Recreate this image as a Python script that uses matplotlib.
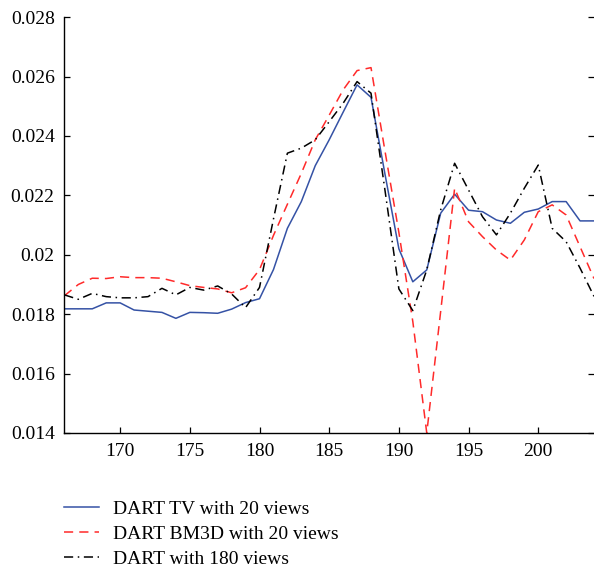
import matplotlib
matplotlib.use("Agg")
import matplotlib.pyplot as plt
from matplotlib.ticker import FixedLocator, FixedFormatter

plt.rcParams['font.family'] = ['Liberation Serif', 'DejaVu Serif']

x = list(range(166, 205))

tv_20 = [0.01818, 0.01818, 0.01818, 0.01838, 0.01838, 0.01814, 0.01810, 0.01806,
         0.01786, 0.01806, 0.01805, 0.01803, 0.01817, 0.01839, 0.01852, 0.01950,
         0.02089, 0.02179, 0.02300, 0.02387, 0.02480, 0.02572, 0.02530, 0.02272,
         0.02020, 0.01909, 0.01949, 0.02140, 0.02204, 0.02150, 0.02145, 0.02117,
         0.02106, 0.02143, 0.02154, 0.02179, 0.02179, 0.02114, 0.02114]

bm3d_20 = [0.01862, 0.01900, 0.01921, 0.01920, 0.01926, 0.01923, 0.01923, 0.01921,
           0.01909, 0.01896, 0.01890, 0.01885, 0.01872, 0.01889, 0.01950, 0.02065,
           0.02170, 0.02274, 0.02387, 0.02470, 0.02555, 0.02620, 0.02630, 0.02350,
           0.02075, 0.01775, 0.01400, 0.01810, 0.02224, 0.02111, 0.02061, 0.02016,
           0.01982, 0.02050, 0.02145, 0.02168, 0.02134, 0.02027, 0.01920]

dart_180 = [0.01865, 0.01850, 0.01870, 0.01859, 0.01855, 0.01855, 0.01859, 0.01887,
            0.01865, 0.01890, 0.01881, 0.01895, 0.01868, 0.01822, 0.01890, 0.02120,
            0.02342, 0.02359, 0.02387, 0.02448, 0.02510, 0.02583, 0.02544, 0.02218,
            0.01885, 0.01812, 0.01949, 0.02151, 0.02308, 0.02218, 0.02128, 0.02067,
            0.02140, 0.02224, 0.02302, 0.02089, 0.02044, 0.01955, 0.01860]

xticks = [170, 175, 180, 185, 190, 195, 200]
xtick_labels = ["170", "175", "180", "185", "190", "195", "200"]
yticks = [0.014, 0.016, 0.018, 0.020, 0.022, 0.024, 0.026, 0.028]
ytick_labels = ["0.014", "0.016", "0.018", "0.02", "0.022", "0.024", "0.026", "0.028"]

labels = ["DART TV with 20 views", "DART BM3D with 20 views", "DART with 180 views"]

fig = plt.figure(figsize=(5.94, 5.71), dpi=100)
ax = fig.add_axes([0.1084, 0.2417, 0.8916, 0.7283])

l1, = ax.plot(x, tv_20, color='#3552a5', lw=1.1, label=labels[0])
l2, = ax.plot(x, bm3d_20, color='#ff2a2a', lw=1.1, dashes=(6, 4), label=labels[1])
l3, = ax.plot(x, dart_180, color='black', lw=1.1, dashes=(6, 3, 1, 3), label=labels[2])

ax.set_xlim(166, 204)
ax.set_ylim(0.014, 0.028)
ax.xaxis.set_major_locator(FixedLocator(xticks))
ax.xaxis.set_major_formatter(FixedFormatter(xtick_labels))
ax.yaxis.set_major_locator(FixedLocator(yticks))
ax.yaxis.set_major_formatter(FixedFormatter(ytick_labels))

ax.spines['top'].set_visible(False)
ax.spines['right'].set_visible(False)
ax.tick_params(direction='in', length=4, width=0.9, labelsize=14, pad=7,
               right=True, top=False)
for s in ['left', 'bottom']:
    ax.spines[s].set_linewidth(1.0)

leg = fig.legend(handles=[l1, l2, l3], loc='upper left',
                 bbox_to_anchor=(0.094, 0.138), frameon=False, fontsize=14,
                 handlelength=1.8, handletextpad=0.72, labelspacing=0.38,
                 borderaxespad=0)

fig.savefig("out.png", dpi=100)
